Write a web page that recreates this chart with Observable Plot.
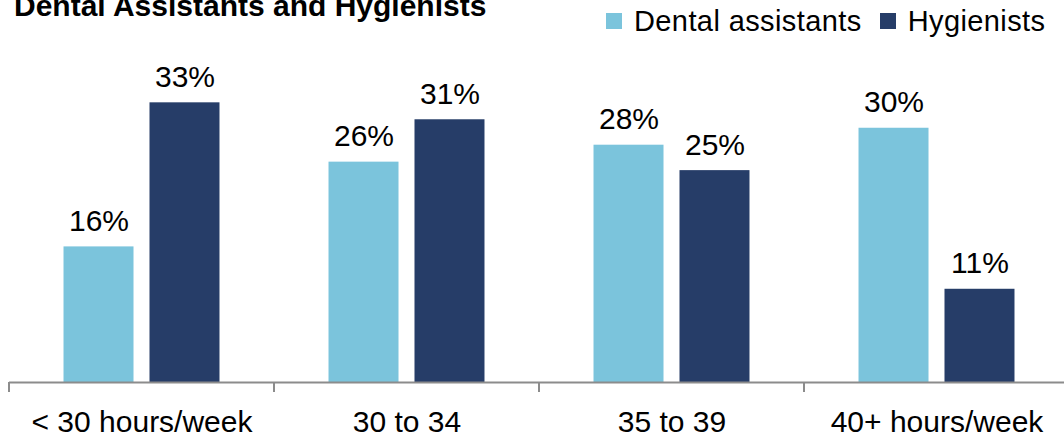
<!DOCTYPE html>
<html>
<head>
<meta charset="utf-8">
<script src="https://cdn.jsdelivr.net/npm/d3@7"></script>
<script src="https://cdn.jsdelivr.net/npm/@observablehq/plot@0.6"></script>
<style>
  html, body { margin: 0; padding: 0; background: #fff; }
  body { width: 1064px; height: 437px; overflow: hidden; font-family: "Liberation Sans", Arial, sans-serif; }
  #header { position: relative; height: 40px; width: 1064px; }
  #title { position: absolute; left: 14px; top: -9px; font-size: 30px; line-height: 30px; font-weight: bold; letter-spacing: 0px; white-space: nowrap; color: #000; }
  #legend { position: absolute; left: 606px; top: 5px; height: 32px; display: flex; align-items: center; font-size: 29px; letter-spacing: 0.4px; color: #000; white-space: nowrap; }
  .item { display: flex; align-items: center; margin-right: 18px; }
  .sw { width: 16px; height: 16px; margin-right: 12px; display: inline-block; }
  #chart { width: 1064px; overflow: hidden; }
  #chart svg { max-width: none !important; display: block; }
</style>
</head>
<body>
<div id="header">
  <div id="title"></div>
  <div id="legend"></div>
</div>
<div id="chart"></div>
<script>
const title = "Dental Assistants and Hygienists";
const categories = ["< 30 hours/week", "30 to 34", "35 to 39", "40+ hours/week"];
const series = ["Dental assistants", "Hygienists"];
const assistants = [16, 26, 28, 30];
const hygienists = [33, 31, 25, 11];
const colors = ["#7bc4dc", "#263d68"];

document.getElementById("title").textContent = title;
const legend = document.getElementById("legend");
series.forEach((s, i) => {
  const item = document.createElement("div");
  item.className = "item";
  const sw = document.createElement("span");
  sw.className = "sw";
  sw.style.background = colors[i];
  item.appendChild(sw);
  item.appendChild(document.createTextNode(s));
  legend.appendChild(item);
});

const data = categories.flatMap((c, i) => [
  {category: c, series: series[0], value: assistants[i]},
  {category: c, series: series[1], value: hygienists[i]}
]);

const chart = Plot.plot({
  width: 1069,
  height: 397,
  marginLeft: 9,
  marginRight: 0,
  marginTop: 3,
  marginBottom: 55,
  style: {fontFamily: "'Liberation Sans', Arial, sans-serif", background: "#fff", color: "#000", maxWidth: "none"},
  fx: {domain: categories, padding: 0, round: false, label: null},
  x: {domain: series, paddingInner: 0.186, paddingOuter: 0.634, round: false, axis: null},
  y: {domain: [0, 40], axis: null},
  color: {domain: series, range: colors},
  marks: [
    Plot.barY(data, {fx: "category", x: "series", y: "value", fill: "series"}),
    Plot.text(data, {fx: "category", x: "series", y: "value", text: d => d.value + "%", dy: -25.6, fontSize: 30, fill: "#000"}),
    Plot.ruleY([0], {stroke: "#8c8c8c", strokeWidth: 2}),
    Plot.axisFx({anchor: "bottom", tickSize: 0, tickPadding: 28, fontSize: 30, label: null, fill: "#000"})
  ]
});

// boundary ticks between categories on the baseline, from the fx and y scales
const fx = chart.scale("fx");
const y0 = chart.scale("y").apply(0);
const bounds = categories.map(c => fx.apply(c)).concat([fx.apply(categories[categories.length - 1]) + fx.bandwidth]);
d3.select(chart).append("g")
  .attr("stroke", "#8c8c8c").attr("stroke-width", 2)
  .selectAll("line").data(bounds).join("line")
  .attr("x1", d => d).attr("x2", d => d)
  .attr("y1", y0).attr("y2", y0 + 10);

document.getElementById("chart").appendChild(chart);
</script>
</body>
</html>
